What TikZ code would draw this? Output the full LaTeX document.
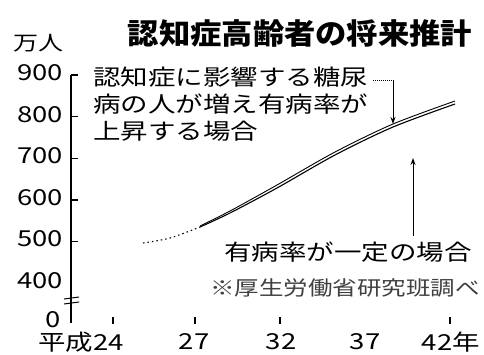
\documentclass[tikz,border=0pt]{standalone}
\usepackage{fontspec}
\usepackage{graphicx}
\newfontfamily\jp{Noto Sans CJK JP}
\usetikzlibrary{arrows.meta}
\newcommand{\wtxt}[2][1.25]{\scalebox{#1}[1]{#2}}
\begin{document}
\begin{tikzpicture}[x=1pt,y=-1pt,
  lab/.style={font=\jp\fontsize{22}{22}\selectfont, inner sep=0pt},
  ttl/.style={font=\jp\bfseries\fontsize{29}{29}\selectfont, inner sep=0pt},
  srcstyle/.style={font=\jp\fontsize{20}{20}\selectfont, inner sep=0pt, text=black!75},
  axisline/.style={line width=1.3pt},
  tickline/.style={line width=1.1pt},
  curve/.style={line width=1.1pt},
  pointer/.style={line width=1pt, -{Stealth[length=7pt,width=5pt]}}]
\useasboundingbox (0,0) rectangle (484,354);
\fill[white] (0,0) rectangle (484,354);
% title and unit
\node[ttl] (title) at (300,33) {\wtxt[1.08]{認知症高齢者の将来推計}};
\node[lab, font=\jp\fontsize{20}{20}\selectfont] (unit) at (38,43) {\wtxt{万人}};
% y axis
\coordinate (ytop) at (71,75);
\coordinate (ybot) at (71,323);
\draw[axisline] (ytop) -- (ybot);
\foreach \v/\y in {900/75,800/116.7,700/158.4,600/200,500/241.8}{
  \draw[tickline] (71,\y) -- (78,\y);
}
\foreach \v/\y in {900/73,800/114.5,700/156,600/197.5,500/239,400/280.5}{
  \node[lab, anchor=east] (y\v) at (63,\y) {\wtxt{\v}};
}
\node[lab, anchor=east] (y0) at (61,320) {\wtxt{0}};
% axis break
\draw[line width=1pt] (64,299) -- (79,297);
\draw[line width=1pt] (64,304) -- (79,302);
% x ticks
\foreach \x in {113,195,280,450}{
  \draw[tickline] (\x,317) -- (\x,324);
}
\node[lab] (x24) at (81,342) {\wtxt{平成24}};
\node[lab] (x27) at (194,342) {\wtxt{27}};
\node[lab] (x32) at (281,342) {\wtxt{32}};
\node[lab] (x37) at (365,342) {\wtxt{37}};
\node[lab] (x42) at (451,342) {\wtxt{42年}};
% curves
\draw[curve, dash pattern=on 1.5pt off 3pt] plot[smooth] coordinates {(143,243) (170,238) (200,227)};
\draw[curve] plot[smooth] coordinates {(200,227) (230,213) (277,188) (335,155) (393,127) (455,104)};
\draw[curve, line width=0.9pt] plot[smooth] coordinates {(200,226) (230,211) (277,185) (335,152) (393,124) (455,101)};
\coordinate (hitA) at (393,124);
\coordinate (hitB) at (413,158);
% annotation 1
\node[lab, anchor=west] (a1) at (93,77) {\wtxt{認知症に影響する糖尿}};
\node[lab, anchor=west] (a2) at (93,104) {\wtxt{病の人が増え有病率が}};
\node[lab, anchor=west] (a3) at (93,131) {\wtxt{上昇する場合}};
\coordinate (bend) at (393,80);
\draw[line width=1pt, densely dotted] ([xshift=5pt]a1.east |- bend) -- (bend);
\draw[pointer] (bend) -- (hitA);
% annotation 2
\node[lab] (b1) at (348,252) {\wtxt{有病率が一定の場合}};
\coordinate (bstart) at (413,236);
\draw[pointer] (bstart) -- (hitB);
% source
\node[srcstyle] (src) at (345,288) {\wtxt[1.225]{※厚生労働省研究班調べ}};
\end{tikzpicture}
\end{document}
